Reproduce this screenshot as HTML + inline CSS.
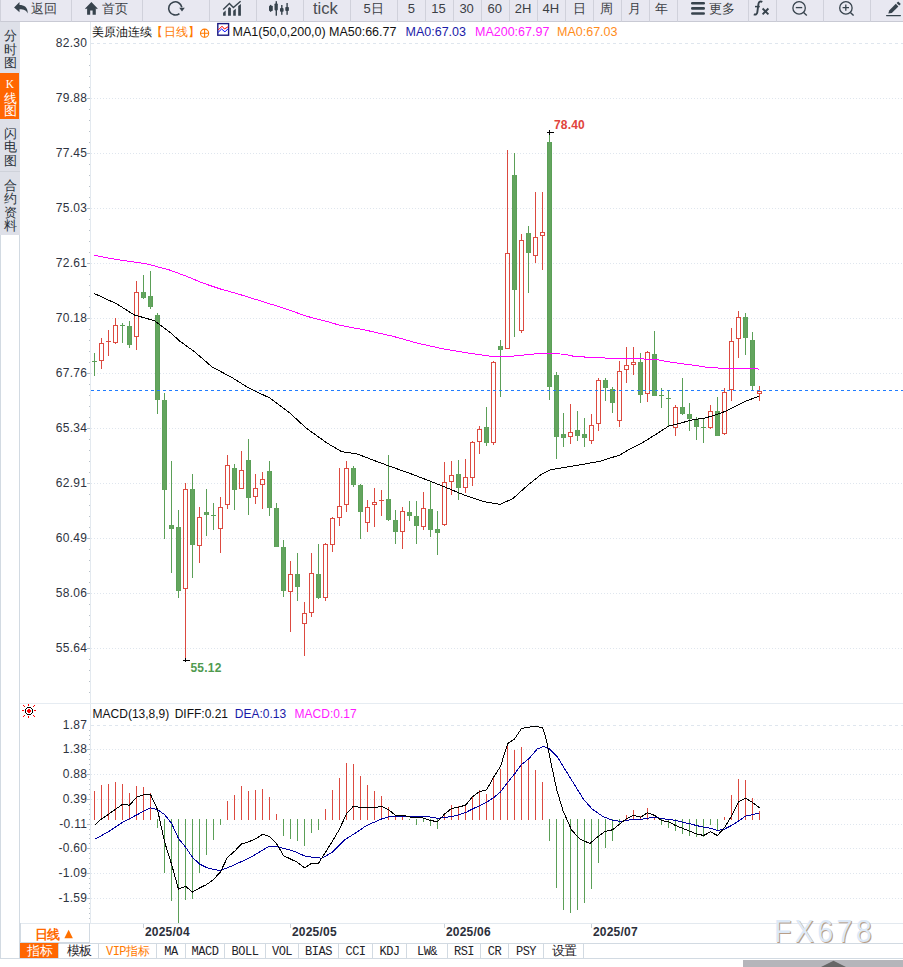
<!DOCTYPE html>
<html><head><meta charset="utf-8">
<style>
*{margin:0;padding:0;box-sizing:border-box}
html,body{width:903px;height:967px;overflow:hidden;background:#fff;font-family:"Liberation Sans",sans-serif;}
.ch{position:absolute;left:0;top:0}
#tbar{position:absolute;left:0;top:0;width:903px;height:22px;background:#e8e8f1;}
.tb{position:absolute;top:0;height:22px;border-left:1px solid #d0d1db;border-bottom:1px solid #c9cad4;display:flex;align-items:center;justify-content:center;color:#3c3f45;font-size:13px;line-height:22px;}
.tx{position:absolute;top:0;white-space:nowrap;color:#3c3f45;line-height:18px}
.tx.num{font-size:13px;top:0px}
.tx.cn{font-size:12.5px;top:-0.5px}
.tx.big{font-size:16.5px;color:#4a4d52;top:-1px}
#side{position:absolute;left:0;top:22px;width:20px;height:213px;background:#dee0e8;}
.st{position:absolute;left:0;width:20px;color:#2b333b;font-size:13.5px;line-height:13.6px;text-align:center;}
.sc{position:absolute;left:0;width:20px;text-align:center;font-size:12.5px;line-height:16px}
#sidebox{position:absolute;left:0;top:235px;width:20px;height:724px;border:1px solid #d2dae2;border-top:none;}
.yl{position:absolute;left:20px;width:67.3px;text-align:right;font-size:12px;color:#2e3340;line-height:15px;letter-spacing:0.3px}
.hd{position:absolute;top:23.6px;font-size:12.5px;line-height:17px;white-space:nowrap;}
.hd.cn{top:24px;font-size:12px}
.xl{position:absolute;top:924.7px;font-size:12px;font-weight:bold;color:#2b2f3a;line-height:15px;letter-spacing:0.2px}
.bt{position:absolute;top:943px;height:16px;border:1px solid #d2dae2;border-left:none;font-family:"Liberation Mono",monospace;font-size:12px;line-height:17px;text-align:center;color:#1e2228;letter-spacing:-0.5px}
.bt.on{background:#ff6600;border-top-color:#ff6600;color:#fff;font-family:"Liberation Sans",sans-serif;font-size:12.5px;letter-spacing:-0.5px;line-height:14px;padding-left:1px}
.bt.cn{font-family:"Liberation Sans",sans-serif;font-size:12.5px;letter-spacing:-0.5px;line-height:14px;padding-left:1px}
.bt.vip{color:#ff7a00;font-size:12px}
#dayl{position:absolute;left:20px;top:923px;width:70px;height:20px;border:1px solid #d2dae2;border-top:none;color:#ff6a00;font-size:13.5px;line-height:22px;text-align:center;}
#dayl span{font-size:9px;position:relative;top:-1px}
#wm{position:absolute;left:773.8px;top:913.6px;font-size:31px;letter-spacing:3.7px;color:#dde9f7;text-shadow:1px 1px 0 #b89e88;line-height:36px;transform:scaleX(0.92);transform-origin:0 0}
</style></head><body>
<svg class="ch" width="903" height="967" viewBox="0 0 903 967">
<g shape-rendering="crispEdges">
<line x1="91" y1="43.5" x2="903" y2="43.5" stroke="#dfe6ee" stroke-width="1" stroke-dasharray="3 3"/>
<line x1="91" y1="98.5" x2="903" y2="98.5" stroke="#dfe6ee" stroke-width="1" stroke-dasharray="1 2"/>
<line x1="91" y1="153.5" x2="903" y2="153.5" stroke="#dfe6ee" stroke-width="1" stroke-dasharray="1 2"/>
<line x1="91" y1="208.5" x2="903" y2="208.5" stroke="#dfe6ee" stroke-width="1" stroke-dasharray="1 2"/>
<line x1="91" y1="263.5" x2="903" y2="263.5" stroke="#dfe6ee" stroke-width="1" stroke-dasharray="1 2"/>
<line x1="91" y1="318.5" x2="903" y2="318.5" stroke="#dfe6ee" stroke-width="1" stroke-dasharray="1 2"/>
<line x1="91" y1="373.5" x2="903" y2="373.5" stroke="#dfe6ee" stroke-width="1" stroke-dasharray="1 2"/>
<line x1="91" y1="428.5" x2="903" y2="428.5" stroke="#dfe6ee" stroke-width="1" stroke-dasharray="1 2"/>
<line x1="91" y1="483.5" x2="903" y2="483.5" stroke="#dfe6ee" stroke-width="1" stroke-dasharray="1 2"/>
<line x1="91" y1="538.5" x2="903" y2="538.5" stroke="#dfe6ee" stroke-width="1" stroke-dasharray="1 2"/>
<line x1="91" y1="593.5" x2="903" y2="593.5" stroke="#dfe6ee" stroke-width="1" stroke-dasharray="1 2"/>
<line x1="91" y1="648.5" x2="903" y2="648.5" stroke="#dfe6ee" stroke-width="1" stroke-dasharray="1 2"/>
<line x1="91" y1="725.5" x2="903" y2="725.5" stroke="#dfe6ee" stroke-width="1" stroke-dasharray="3 3"/>
<line x1="91" y1="749.5" x2="903" y2="749.5" stroke="#dfe6ee" stroke-width="1" stroke-dasharray="1 2"/>
<line x1="91" y1="774.5" x2="903" y2="774.5" stroke="#dfe6ee" stroke-width="1" stroke-dasharray="1 2"/>
<line x1="91" y1="799.5" x2="903" y2="799.5" stroke="#dfe6ee" stroke-width="1" stroke-dasharray="1 2"/>
<line x1="91" y1="824.5" x2="903" y2="824.5" stroke="#dfe6ee" stroke-width="1" stroke-dasharray="1 2"/>
<line x1="91" y1="848.5" x2="903" y2="848.5" stroke="#dfe6ee" stroke-width="1" stroke-dasharray="1 2"/>
<line x1="91" y1="873.5" x2="903" y2="873.5" stroke="#dfe6ee" stroke-width="1" stroke-dasharray="1 2"/>
<line x1="91" y1="898.5" x2="903" y2="898.5" stroke="#dfe6ee" stroke-width="1" stroke-dasharray="1 2"/>
<rect x="90" y="22" width="1" height="681" fill="#e3e9ef"/>
<rect x="90" y="704" width="1" height="219" fill="#e3e9ef"/>
<rect x="89" y="54" width="1" height="1" fill="#b8c0c8"/>
<rect x="89" y="65" width="1" height="1" fill="#b8c0c8"/>
<rect x="89" y="76" width="1" height="1" fill="#b8c0c8"/>
<rect x="89" y="87" width="1" height="1" fill="#b8c0c8"/>
<rect x="87" y="98" width="3" height="1" fill="#b8c0c8"/>
<rect x="89" y="109" width="1" height="1" fill="#b8c0c8"/>
<rect x="89" y="120" width="1" height="1" fill="#b8c0c8"/>
<rect x="89" y="131" width="1" height="1" fill="#b8c0c8"/>
<rect x="89" y="142" width="1" height="1" fill="#b8c0c8"/>
<rect x="87" y="153" width="3" height="1" fill="#b8c0c8"/>
<rect x="89" y="164" width="1" height="1" fill="#b8c0c8"/>
<rect x="89" y="175" width="1" height="1" fill="#b8c0c8"/>
<rect x="89" y="186" width="1" height="1" fill="#b8c0c8"/>
<rect x="89" y="197" width="1" height="1" fill="#b8c0c8"/>
<rect x="87" y="208" width="3" height="1" fill="#b8c0c8"/>
<rect x="89" y="219" width="1" height="1" fill="#b8c0c8"/>
<rect x="89" y="230" width="1" height="1" fill="#b8c0c8"/>
<rect x="89" y="241" width="1" height="1" fill="#b8c0c8"/>
<rect x="89" y="252" width="1" height="1" fill="#b8c0c8"/>
<rect x="87" y="263" width="3" height="1" fill="#b8c0c8"/>
<rect x="89" y="274" width="1" height="1" fill="#b8c0c8"/>
<rect x="89" y="285" width="1" height="1" fill="#b8c0c8"/>
<rect x="89" y="296" width="1" height="1" fill="#b8c0c8"/>
<rect x="89" y="307" width="1" height="1" fill="#b8c0c8"/>
<rect x="87" y="318" width="3" height="1" fill="#b8c0c8"/>
<rect x="89" y="329" width="1" height="1" fill="#b8c0c8"/>
<rect x="89" y="340" width="1" height="1" fill="#b8c0c8"/>
<rect x="89" y="351" width="1" height="1" fill="#b8c0c8"/>
<rect x="89" y="362" width="1" height="1" fill="#b8c0c8"/>
<rect x="87" y="373" width="3" height="1" fill="#b8c0c8"/>
<rect x="89" y="384" width="1" height="1" fill="#b8c0c8"/>
<rect x="89" y="395" width="1" height="1" fill="#b8c0c8"/>
<rect x="89" y="406" width="1" height="1" fill="#b8c0c8"/>
<rect x="89" y="417" width="1" height="1" fill="#b8c0c8"/>
<rect x="87" y="428" width="3" height="1" fill="#b8c0c8"/>
<rect x="89" y="439" width="1" height="1" fill="#b8c0c8"/>
<rect x="89" y="450" width="1" height="1" fill="#b8c0c8"/>
<rect x="89" y="461" width="1" height="1" fill="#b8c0c8"/>
<rect x="89" y="472" width="1" height="1" fill="#b8c0c8"/>
<rect x="87" y="483" width="3" height="1" fill="#b8c0c8"/>
<rect x="89" y="494" width="1" height="1" fill="#b8c0c8"/>
<rect x="89" y="505" width="1" height="1" fill="#b8c0c8"/>
<rect x="89" y="516" width="1" height="1" fill="#b8c0c8"/>
<rect x="89" y="527" width="1" height="1" fill="#b8c0c8"/>
<rect x="87" y="538" width="3" height="1" fill="#b8c0c8"/>
<rect x="89" y="549" width="1" height="1" fill="#b8c0c8"/>
<rect x="89" y="560" width="1" height="1" fill="#b8c0c8"/>
<rect x="89" y="571" width="1" height="1" fill="#b8c0c8"/>
<rect x="89" y="582" width="1" height="1" fill="#b8c0c8"/>
<rect x="87" y="593" width="3" height="1" fill="#b8c0c8"/>
<rect x="89" y="604" width="1" height="1" fill="#b8c0c8"/>
<rect x="89" y="615" width="1" height="1" fill="#b8c0c8"/>
<rect x="89" y="626" width="1" height="1" fill="#b8c0c8"/>
<rect x="89" y="637" width="1" height="1" fill="#b8c0c8"/>
<rect x="87" y="648" width="3" height="1" fill="#b8c0c8"/>
<rect x="89" y="659" width="1" height="1" fill="#b8c0c8"/>
<rect x="89" y="670" width="1" height="1" fill="#b8c0c8"/>
<rect x="89" y="681" width="1" height="1" fill="#b8c0c8"/>
<rect x="89" y="692" width="1" height="1" fill="#b8c0c8"/>
<rect x="89" y="730" width="1" height="1" fill="#b8c0c8"/>
<rect x="89" y="735" width="1" height="1" fill="#b8c0c8"/>
<rect x="89" y="739" width="1" height="1" fill="#b8c0c8"/>
<rect x="89" y="744" width="1" height="1" fill="#b8c0c8"/>
<rect x="87" y="749" width="3" height="1" fill="#b8c0c8"/>
<rect x="89" y="754" width="1" height="1" fill="#b8c0c8"/>
<rect x="89" y="759" width="1" height="1" fill="#b8c0c8"/>
<rect x="89" y="764" width="1" height="1" fill="#b8c0c8"/>
<rect x="89" y="769" width="1" height="1" fill="#b8c0c8"/>
<rect x="87" y="774" width="3" height="1" fill="#b8c0c8"/>
<rect x="89" y="779" width="1" height="1" fill="#b8c0c8"/>
<rect x="89" y="784" width="1" height="1" fill="#b8c0c8"/>
<rect x="89" y="789" width="1" height="1" fill="#b8c0c8"/>
<rect x="89" y="794" width="1" height="1" fill="#b8c0c8"/>
<rect x="87" y="799" width="3" height="1" fill="#b8c0c8"/>
<rect x="89" y="804" width="1" height="1" fill="#b8c0c8"/>
<rect x="89" y="809" width="1" height="1" fill="#b8c0c8"/>
<rect x="89" y="814" width="1" height="1" fill="#b8c0c8"/>
<rect x="89" y="819" width="1" height="1" fill="#b8c0c8"/>
<rect x="87" y="824" width="3" height="1" fill="#b8c0c8"/>
<rect x="89" y="829" width="1" height="1" fill="#b8c0c8"/>
<rect x="89" y="834" width="1" height="1" fill="#b8c0c8"/>
<rect x="89" y="838" width="1" height="1" fill="#b8c0c8"/>
<rect x="89" y="843" width="1" height="1" fill="#b8c0c8"/>
<rect x="87" y="848" width="3" height="1" fill="#b8c0c8"/>
<rect x="89" y="853" width="1" height="1" fill="#b8c0c8"/>
<rect x="89" y="858" width="1" height="1" fill="#b8c0c8"/>
<rect x="89" y="863" width="1" height="1" fill="#b8c0c8"/>
<rect x="89" y="868" width="1" height="1" fill="#b8c0c8"/>
<rect x="87" y="873" width="3" height="1" fill="#b8c0c8"/>
<rect x="89" y="878" width="1" height="1" fill="#b8c0c8"/>
<rect x="89" y="883" width="1" height="1" fill="#b8c0c8"/>
<rect x="89" y="888" width="1" height="1" fill="#b8c0c8"/>
<rect x="89" y="893" width="1" height="1" fill="#b8c0c8"/>
<rect x="87" y="898" width="3" height="1" fill="#b8c0c8"/>
<rect x="89" y="903" width="1" height="1" fill="#b8c0c8"/>
<rect x="89" y="908" width="1" height="1" fill="#b8c0c8"/>
<rect x="89" y="913" width="1" height="1" fill="#b8c0c8"/>
<rect x="89" y="918" width="1" height="1" fill="#b8c0c8"/>
<rect x="20" y="703" width="883" height="1" fill="#e6ecf2"/>
<rect x="20" y="923" width="883" height="1" fill="#e3e9ef"/>
<rect x="94" y="353" width="1" height="23" fill="#5b9f57"/>
<rect x="92" y="361" width="5" height="1" fill="#5b9f57"/>
<rect x="101" y="338" width="1" height="5" fill="#dc4a40"/>
<rect x="101" y="360" width="1" height="9" fill="#dc4a40"/>
<rect x="99" y="343" width="5" height="1" fill="#dc4a40"/>
<rect x="99" y="360" width="5" height="1" fill="#dc4a40"/>
<rect x="99" y="343" width="1" height="18" fill="#dc4a40"/>
<rect x="103" y="343" width="1" height="18" fill="#dc4a40"/>
<rect x="108" y="330" width="1" height="11" fill="#dc4a40"/>
<rect x="108" y="342" width="1" height="14" fill="#dc4a40"/>
<rect x="106" y="341" width="5" height="1" fill="#dc4a40"/>
<rect x="115" y="318" width="1" height="7" fill="#dc4a40"/>
<rect x="115" y="342" width="1" height="2" fill="#dc4a40"/>
<rect x="113" y="325" width="5" height="1" fill="#dc4a40"/>
<rect x="113" y="342" width="5" height="1" fill="#dc4a40"/>
<rect x="113" y="325" width="1" height="18" fill="#dc4a40"/>
<rect x="117" y="325" width="1" height="18" fill="#dc4a40"/>
<rect x="122" y="323" width="1" height="20" fill="#5b9f57"/>
<rect x="120" y="325" width="5" height="1" fill="#5b9f57"/>
<rect x="129" y="321" width="1" height="27" fill="#5b9f57"/>
<rect x="127" y="326" width="5" height="19" fill="#63a55e" stroke="none"/>
<rect x="127" y="326" width="1" height="19" fill="#5b9f57"/>
<rect x="131" y="326" width="1" height="19" fill="#5b9f57"/>
<rect x="136" y="281" width="1" height="11" fill="#dc4a40"/>
<rect x="136" y="336" width="1" height="14" fill="#dc4a40"/>
<rect x="134" y="292" width="5" height="1" fill="#dc4a40"/>
<rect x="134" y="336" width="5" height="1" fill="#dc4a40"/>
<rect x="134" y="292" width="1" height="45" fill="#dc4a40"/>
<rect x="138" y="292" width="1" height="45" fill="#dc4a40"/>
<rect x="143" y="275" width="1" height="24" fill="#5b9f57"/>
<rect x="141" y="292" width="5" height="6" fill="#63a55e" stroke="none"/>
<rect x="141" y="292" width="1" height="6" fill="#5b9f57"/>
<rect x="145" y="292" width="1" height="6" fill="#5b9f57"/>
<rect x="150" y="271" width="1" height="38" fill="#5b9f57"/>
<rect x="148" y="296" width="5" height="11" fill="#63a55e" stroke="none"/>
<rect x="148" y="296" width="1" height="11" fill="#5b9f57"/>
<rect x="152" y="296" width="1" height="11" fill="#5b9f57"/>
<rect x="157" y="313" width="1" height="101" fill="#5b9f57"/>
<rect x="155" y="315" width="5" height="85" fill="#63a55e" stroke="none"/>
<rect x="155" y="315" width="1" height="85" fill="#5b9f57"/>
<rect x="159" y="315" width="1" height="85" fill="#5b9f57"/>
<rect x="164" y="393" width="1" height="146" fill="#5b9f57"/>
<rect x="162" y="400" width="5" height="90" fill="#63a55e" stroke="none"/>
<rect x="162" y="400" width="1" height="90" fill="#5b9f57"/>
<rect x="166" y="400" width="1" height="90" fill="#5b9f57"/>
<rect x="171" y="461" width="1" height="112" fill="#5b9f57"/>
<rect x="169" y="525" width="5" height="4" fill="#63a55e" stroke="none"/>
<rect x="169" y="525" width="1" height="4" fill="#5b9f57"/>
<rect x="173" y="525" width="1" height="4" fill="#5b9f57"/>
<rect x="178" y="510" width="1" height="88" fill="#5b9f57"/>
<rect x="176" y="527" width="5" height="64" fill="#63a55e" stroke="none"/>
<rect x="176" y="527" width="1" height="64" fill="#5b9f57"/>
<rect x="180" y="527" width="1" height="64" fill="#5b9f57"/>
<rect x="185" y="483" width="1" height="6" fill="#dc4a40"/>
<rect x="185" y="588" width="1" height="73" fill="#dc4a40"/>
<rect x="183" y="489" width="5" height="1" fill="#dc4a40"/>
<rect x="183" y="588" width="5" height="1" fill="#dc4a40"/>
<rect x="183" y="489" width="1" height="100" fill="#dc4a40"/>
<rect x="187" y="489" width="1" height="100" fill="#dc4a40"/>
<rect x="192" y="474" width="1" height="104" fill="#5b9f57"/>
<rect x="190" y="489" width="5" height="56" fill="#63a55e" stroke="none"/>
<rect x="190" y="489" width="1" height="56" fill="#5b9f57"/>
<rect x="194" y="489" width="1" height="56" fill="#5b9f57"/>
<rect x="199" y="507" width="1" height="10" fill="#dc4a40"/>
<rect x="199" y="545" width="1" height="18" fill="#dc4a40"/>
<rect x="197" y="517" width="5" height="1" fill="#dc4a40"/>
<rect x="197" y="545" width="5" height="1" fill="#dc4a40"/>
<rect x="197" y="517" width="1" height="29" fill="#dc4a40"/>
<rect x="201" y="517" width="1" height="29" fill="#dc4a40"/>
<rect x="206" y="489" width="1" height="47" fill="#5b9f57"/>
<rect x="204" y="512" width="5" height="3" fill="#63a55e" stroke="none"/>
<rect x="204" y="512" width="1" height="3" fill="#5b9f57"/>
<rect x="208" y="512" width="1" height="3" fill="#5b9f57"/>
<rect x="213" y="503" width="1" height="27" fill="#5b9f57"/>
<rect x="211" y="515" width="5" height="1" fill="#5b9f57"/>
<rect x="220" y="497" width="1" height="10" fill="#dc4a40"/>
<rect x="220" y="528" width="1" height="25" fill="#dc4a40"/>
<rect x="218" y="507" width="5" height="1" fill="#dc4a40"/>
<rect x="218" y="528" width="5" height="1" fill="#dc4a40"/>
<rect x="218" y="507" width="1" height="22" fill="#dc4a40"/>
<rect x="222" y="507" width="1" height="22" fill="#dc4a40"/>
<rect x="227" y="455" width="1" height="10" fill="#dc4a40"/>
<rect x="227" y="504" width="1" height="5" fill="#dc4a40"/>
<rect x="225" y="465" width="5" height="1" fill="#dc4a40"/>
<rect x="225" y="504" width="5" height="1" fill="#dc4a40"/>
<rect x="225" y="465" width="1" height="40" fill="#dc4a40"/>
<rect x="229" y="465" width="1" height="40" fill="#dc4a40"/>
<rect x="234" y="464" width="1" height="46" fill="#5b9f57"/>
<rect x="232" y="468" width="5" height="22" fill="#63a55e" stroke="none"/>
<rect x="232" y="468" width="1" height="22" fill="#5b9f57"/>
<rect x="236" y="468" width="1" height="22" fill="#5b9f57"/>
<rect x="241" y="451" width="1" height="19" fill="#dc4a40"/>
<rect x="239" y="470" width="5" height="1" fill="#dc4a40"/>
<rect x="239" y="488" width="5" height="1" fill="#dc4a40"/>
<rect x="239" y="470" width="1" height="19" fill="#dc4a40"/>
<rect x="243" y="470" width="1" height="19" fill="#dc4a40"/>
<rect x="248" y="439" width="1" height="76" fill="#5b9f57"/>
<rect x="246" y="460" width="5" height="38" fill="#63a55e" stroke="none"/>
<rect x="246" y="460" width="1" height="38" fill="#5b9f57"/>
<rect x="250" y="460" width="1" height="38" fill="#5b9f57"/>
<rect x="255" y="474" width="1" height="14" fill="#dc4a40"/>
<rect x="255" y="496" width="1" height="8" fill="#dc4a40"/>
<rect x="253" y="488" width="5" height="1" fill="#dc4a40"/>
<rect x="253" y="496" width="5" height="1" fill="#dc4a40"/>
<rect x="253" y="488" width="1" height="9" fill="#dc4a40"/>
<rect x="257" y="488" width="1" height="9" fill="#dc4a40"/>
<rect x="262" y="472" width="1" height="7" fill="#dc4a40"/>
<rect x="262" y="484" width="1" height="25" fill="#dc4a40"/>
<rect x="260" y="479" width="5" height="1" fill="#dc4a40"/>
<rect x="260" y="484" width="5" height="1" fill="#dc4a40"/>
<rect x="260" y="479" width="1" height="6" fill="#dc4a40"/>
<rect x="264" y="479" width="1" height="6" fill="#dc4a40"/>
<rect x="269" y="461" width="1" height="55" fill="#5b9f57"/>
<rect x="267" y="471" width="5" height="37" fill="#63a55e" stroke="none"/>
<rect x="267" y="471" width="1" height="37" fill="#5b9f57"/>
<rect x="271" y="471" width="1" height="37" fill="#5b9f57"/>
<rect x="276" y="503" width="1" height="44" fill="#5b9f57"/>
<rect x="274" y="508" width="5" height="39" fill="#63a55e" stroke="none"/>
<rect x="274" y="508" width="1" height="39" fill="#5b9f57"/>
<rect x="278" y="508" width="1" height="39" fill="#5b9f57"/>
<rect x="283" y="540" width="1" height="57" fill="#5b9f57"/>
<rect x="281" y="547" width="5" height="44" fill="#63a55e" stroke="none"/>
<rect x="281" y="547" width="1" height="44" fill="#5b9f57"/>
<rect x="285" y="547" width="1" height="44" fill="#5b9f57"/>
<rect x="290" y="561" width="1" height="13" fill="#dc4a40"/>
<rect x="290" y="591" width="1" height="41" fill="#dc4a40"/>
<rect x="288" y="574" width="5" height="1" fill="#dc4a40"/>
<rect x="288" y="591" width="5" height="1" fill="#dc4a40"/>
<rect x="288" y="574" width="1" height="18" fill="#dc4a40"/>
<rect x="292" y="574" width="1" height="18" fill="#dc4a40"/>
<rect x="297" y="553" width="1" height="48" fill="#5b9f57"/>
<rect x="295" y="574" width="5" height="13" fill="#63a55e" stroke="none"/>
<rect x="295" y="574" width="1" height="13" fill="#5b9f57"/>
<rect x="299" y="574" width="1" height="13" fill="#5b9f57"/>
<rect x="304" y="602" width="1" height="11" fill="#dc4a40"/>
<rect x="304" y="623" width="1" height="33" fill="#dc4a40"/>
<rect x="302" y="613" width="5" height="1" fill="#dc4a40"/>
<rect x="302" y="623" width="5" height="1" fill="#dc4a40"/>
<rect x="302" y="613" width="1" height="11" fill="#dc4a40"/>
<rect x="306" y="613" width="1" height="11" fill="#dc4a40"/>
<rect x="311" y="553" width="1" height="20" fill="#dc4a40"/>
<rect x="311" y="612" width="1" height="5" fill="#dc4a40"/>
<rect x="309" y="573" width="5" height="1" fill="#dc4a40"/>
<rect x="309" y="612" width="5" height="1" fill="#dc4a40"/>
<rect x="309" y="573" width="1" height="40" fill="#dc4a40"/>
<rect x="313" y="573" width="1" height="40" fill="#dc4a40"/>
<rect x="318" y="544" width="1" height="55" fill="#5b9f57"/>
<rect x="316" y="574" width="5" height="24" fill="#63a55e" stroke="none"/>
<rect x="316" y="574" width="1" height="24" fill="#5b9f57"/>
<rect x="320" y="574" width="1" height="24" fill="#5b9f57"/>
<rect x="325" y="543" width="1" height="1" fill="#dc4a40"/>
<rect x="325" y="597" width="1" height="4" fill="#dc4a40"/>
<rect x="323" y="544" width="5" height="1" fill="#dc4a40"/>
<rect x="323" y="597" width="5" height="1" fill="#dc4a40"/>
<rect x="323" y="544" width="1" height="54" fill="#dc4a40"/>
<rect x="327" y="544" width="1" height="54" fill="#dc4a40"/>
<rect x="332" y="517" width="1" height="1" fill="#dc4a40"/>
<rect x="332" y="544" width="1" height="8" fill="#dc4a40"/>
<rect x="330" y="518" width="5" height="1" fill="#dc4a40"/>
<rect x="330" y="544" width="5" height="1" fill="#dc4a40"/>
<rect x="330" y="518" width="1" height="27" fill="#dc4a40"/>
<rect x="334" y="518" width="1" height="27" fill="#dc4a40"/>
<rect x="339" y="468" width="1" height="38" fill="#dc4a40"/>
<rect x="339" y="517" width="1" height="9" fill="#dc4a40"/>
<rect x="337" y="506" width="5" height="1" fill="#dc4a40"/>
<rect x="337" y="517" width="5" height="1" fill="#dc4a40"/>
<rect x="337" y="506" width="1" height="12" fill="#dc4a40"/>
<rect x="341" y="506" width="1" height="12" fill="#dc4a40"/>
<rect x="346" y="461" width="1" height="7" fill="#dc4a40"/>
<rect x="346" y="504" width="1" height="8" fill="#dc4a40"/>
<rect x="344" y="468" width="5" height="1" fill="#dc4a40"/>
<rect x="344" y="504" width="5" height="1" fill="#dc4a40"/>
<rect x="344" y="468" width="1" height="37" fill="#dc4a40"/>
<rect x="348" y="468" width="1" height="37" fill="#dc4a40"/>
<rect x="353" y="466" width="1" height="21" fill="#5b9f57"/>
<rect x="351" y="468" width="5" height="17" fill="#63a55e" stroke="none"/>
<rect x="351" y="468" width="1" height="17" fill="#5b9f57"/>
<rect x="355" y="468" width="1" height="17" fill="#5b9f57"/>
<rect x="360" y="484" width="1" height="55" fill="#5b9f57"/>
<rect x="358" y="485" width="5" height="27" fill="#63a55e" stroke="none"/>
<rect x="358" y="485" width="1" height="27" fill="#5b9f57"/>
<rect x="362" y="485" width="1" height="27" fill="#5b9f57"/>
<rect x="367" y="500" width="1" height="7" fill="#dc4a40"/>
<rect x="367" y="522" width="1" height="10" fill="#dc4a40"/>
<rect x="365" y="507" width="5" height="1" fill="#dc4a40"/>
<rect x="365" y="522" width="5" height="1" fill="#dc4a40"/>
<rect x="365" y="507" width="1" height="16" fill="#dc4a40"/>
<rect x="369" y="507" width="1" height="16" fill="#dc4a40"/>
<rect x="374" y="488" width="1" height="14" fill="#dc4a40"/>
<rect x="374" y="504" width="1" height="23" fill="#dc4a40"/>
<rect x="372" y="502" width="5" height="1" fill="#dc4a40"/>
<rect x="372" y="504" width="5" height="1" fill="#dc4a40"/>
<rect x="372" y="502" width="1" height="3" fill="#dc4a40"/>
<rect x="376" y="502" width="1" height="3" fill="#dc4a40"/>
<rect x="381" y="490" width="1" height="10" fill="#dc4a40"/>
<rect x="381" y="500" width="1" height="16" fill="#dc4a40"/>
<rect x="379" y="500" width="5" height="1" fill="#dc4a40"/>
<rect x="388" y="455" width="1" height="66" fill="#5b9f57"/>
<rect x="386" y="499" width="5" height="21" fill="#63a55e" stroke="none"/>
<rect x="386" y="499" width="1" height="21" fill="#5b9f57"/>
<rect x="390" y="499" width="1" height="21" fill="#5b9f57"/>
<rect x="395" y="510" width="1" height="34" fill="#5b9f57"/>
<rect x="393" y="520" width="5" height="12" fill="#63a55e" stroke="none"/>
<rect x="393" y="520" width="1" height="12" fill="#5b9f57"/>
<rect x="397" y="520" width="1" height="12" fill="#5b9f57"/>
<rect x="402" y="507" width="1" height="4" fill="#dc4a40"/>
<rect x="402" y="531" width="1" height="18" fill="#dc4a40"/>
<rect x="400" y="511" width="5" height="1" fill="#dc4a40"/>
<rect x="400" y="531" width="5" height="1" fill="#dc4a40"/>
<rect x="400" y="511" width="1" height="21" fill="#dc4a40"/>
<rect x="404" y="511" width="1" height="21" fill="#dc4a40"/>
<rect x="409" y="501" width="1" height="20" fill="#5b9f57"/>
<rect x="407" y="512" width="5" height="4" fill="#63a55e" stroke="none"/>
<rect x="407" y="512" width="1" height="4" fill="#5b9f57"/>
<rect x="411" y="512" width="1" height="4" fill="#5b9f57"/>
<rect x="416" y="501" width="1" height="43" fill="#5b9f57"/>
<rect x="414" y="516" width="5" height="10" fill="#63a55e" stroke="none"/>
<rect x="414" y="516" width="1" height="10" fill="#5b9f57"/>
<rect x="418" y="516" width="1" height="10" fill="#5b9f57"/>
<rect x="423" y="492" width="1" height="16" fill="#dc4a40"/>
<rect x="423" y="526" width="1" height="4" fill="#dc4a40"/>
<rect x="421" y="508" width="5" height="1" fill="#dc4a40"/>
<rect x="421" y="526" width="5" height="1" fill="#dc4a40"/>
<rect x="421" y="508" width="1" height="19" fill="#dc4a40"/>
<rect x="425" y="508" width="1" height="19" fill="#dc4a40"/>
<rect x="430" y="481" width="1" height="56" fill="#5b9f57"/>
<rect x="428" y="509" width="5" height="21" fill="#63a55e" stroke="none"/>
<rect x="428" y="509" width="1" height="21" fill="#5b9f57"/>
<rect x="432" y="509" width="1" height="21" fill="#5b9f57"/>
<rect x="437" y="511" width="1" height="44" fill="#5b9f57"/>
<rect x="435" y="529" width="5" height="4" fill="#63a55e" stroke="none"/>
<rect x="435" y="529" width="1" height="4" fill="#5b9f57"/>
<rect x="439" y="529" width="1" height="4" fill="#5b9f57"/>
<rect x="444" y="462" width="1" height="20" fill="#dc4a40"/>
<rect x="444" y="524" width="1" height="2" fill="#dc4a40"/>
<rect x="442" y="482" width="5" height="1" fill="#dc4a40"/>
<rect x="442" y="524" width="5" height="1" fill="#dc4a40"/>
<rect x="442" y="482" width="1" height="43" fill="#dc4a40"/>
<rect x="446" y="482" width="1" height="43" fill="#dc4a40"/>
<rect x="451" y="461" width="1" height="14" fill="#dc4a40"/>
<rect x="451" y="481" width="1" height="14" fill="#dc4a40"/>
<rect x="449" y="475" width="5" height="1" fill="#dc4a40"/>
<rect x="449" y="481" width="5" height="1" fill="#dc4a40"/>
<rect x="449" y="475" width="1" height="7" fill="#dc4a40"/>
<rect x="453" y="475" width="1" height="7" fill="#dc4a40"/>
<rect x="458" y="460" width="1" height="40" fill="#5b9f57"/>
<rect x="456" y="474" width="5" height="14" fill="#63a55e" stroke="none"/>
<rect x="456" y="474" width="1" height="14" fill="#5b9f57"/>
<rect x="460" y="474" width="1" height="14" fill="#5b9f57"/>
<rect x="465" y="459" width="1" height="18" fill="#dc4a40"/>
<rect x="465" y="487" width="1" height="6" fill="#dc4a40"/>
<rect x="463" y="477" width="5" height="1" fill="#dc4a40"/>
<rect x="463" y="487" width="5" height="1" fill="#dc4a40"/>
<rect x="463" y="477" width="1" height="11" fill="#dc4a40"/>
<rect x="467" y="477" width="1" height="11" fill="#dc4a40"/>
<rect x="472" y="441" width="1" height="1" fill="#dc4a40"/>
<rect x="472" y="477" width="1" height="9" fill="#dc4a40"/>
<rect x="470" y="442" width="5" height="1" fill="#dc4a40"/>
<rect x="470" y="477" width="5" height="1" fill="#dc4a40"/>
<rect x="470" y="442" width="1" height="36" fill="#dc4a40"/>
<rect x="474" y="442" width="1" height="36" fill="#dc4a40"/>
<rect x="479" y="426" width="1" height="3" fill="#dc4a40"/>
<rect x="479" y="441" width="1" height="13" fill="#dc4a40"/>
<rect x="477" y="429" width="5" height="1" fill="#dc4a40"/>
<rect x="477" y="441" width="5" height="1" fill="#dc4a40"/>
<rect x="477" y="429" width="1" height="13" fill="#dc4a40"/>
<rect x="481" y="429" width="1" height="13" fill="#dc4a40"/>
<rect x="486" y="407" width="1" height="39" fill="#5b9f57"/>
<rect x="484" y="427" width="5" height="16" fill="#63a55e" stroke="none"/>
<rect x="484" y="427" width="1" height="16" fill="#5b9f57"/>
<rect x="488" y="427" width="1" height="16" fill="#5b9f57"/>
<rect x="493" y="361" width="1" height="1" fill="#dc4a40"/>
<rect x="493" y="442" width="1" height="3" fill="#dc4a40"/>
<rect x="491" y="362" width="5" height="1" fill="#dc4a40"/>
<rect x="491" y="442" width="5" height="1" fill="#dc4a40"/>
<rect x="491" y="362" width="1" height="81" fill="#dc4a40"/>
<rect x="495" y="362" width="1" height="81" fill="#dc4a40"/>
<rect x="500" y="340" width="1" height="57" fill="#5b9f57"/>
<rect x="498" y="346" width="5" height="4" fill="#63a55e" stroke="none"/>
<rect x="498" y="346" width="1" height="4" fill="#5b9f57"/>
<rect x="502" y="346" width="1" height="4" fill="#5b9f57"/>
<rect x="507" y="150" width="1" height="103" fill="#dc4a40"/>
<rect x="505" y="253" width="5" height="1" fill="#dc4a40"/>
<rect x="505" y="348" width="5" height="1" fill="#dc4a40"/>
<rect x="505" y="253" width="1" height="96" fill="#dc4a40"/>
<rect x="509" y="253" width="1" height="96" fill="#dc4a40"/>
<rect x="514" y="153" width="1" height="184" fill="#5b9f57"/>
<rect x="512" y="175" width="5" height="115" fill="#63a55e" stroke="none"/>
<rect x="512" y="175" width="1" height="115" fill="#5b9f57"/>
<rect x="516" y="175" width="1" height="115" fill="#5b9f57"/>
<rect x="521" y="234" width="1" height="6" fill="#dc4a40"/>
<rect x="521" y="330" width="1" height="3" fill="#dc4a40"/>
<rect x="519" y="240" width="5" height="1" fill="#dc4a40"/>
<rect x="519" y="330" width="5" height="1" fill="#dc4a40"/>
<rect x="519" y="240" width="1" height="91" fill="#dc4a40"/>
<rect x="523" y="240" width="1" height="91" fill="#dc4a40"/>
<rect x="528" y="226" width="1" height="67" fill="#5b9f57"/>
<rect x="526" y="233" width="5" height="20" fill="#63a55e" stroke="none"/>
<rect x="526" y="233" width="1" height="20" fill="#5b9f57"/>
<rect x="530" y="233" width="1" height="20" fill="#5b9f57"/>
<rect x="535" y="192" width="1" height="45" fill="#dc4a40"/>
<rect x="535" y="255" width="1" height="8" fill="#dc4a40"/>
<rect x="533" y="237" width="5" height="1" fill="#dc4a40"/>
<rect x="533" y="255" width="5" height="1" fill="#dc4a40"/>
<rect x="533" y="237" width="1" height="19" fill="#dc4a40"/>
<rect x="537" y="237" width="1" height="19" fill="#dc4a40"/>
<rect x="542" y="192" width="1" height="40" fill="#dc4a40"/>
<rect x="542" y="235" width="1" height="35" fill="#dc4a40"/>
<rect x="540" y="232" width="5" height="1" fill="#dc4a40"/>
<rect x="540" y="235" width="5" height="1" fill="#dc4a40"/>
<rect x="540" y="232" width="1" height="4" fill="#dc4a40"/>
<rect x="544" y="232" width="1" height="4" fill="#dc4a40"/>
<rect x="549" y="133" width="1" height="267" fill="#5b9f57"/>
<rect x="547" y="142" width="5" height="245" fill="#63a55e" stroke="none"/>
<rect x="547" y="142" width="1" height="245" fill="#5b9f57"/>
<rect x="551" y="142" width="1" height="245" fill="#5b9f57"/>
<rect x="556" y="372" width="1" height="87" fill="#5b9f57"/>
<rect x="554" y="375" width="5" height="62" fill="#63a55e" stroke="none"/>
<rect x="554" y="375" width="1" height="62" fill="#5b9f57"/>
<rect x="558" y="375" width="1" height="62" fill="#5b9f57"/>
<rect x="563" y="413" width="1" height="34" fill="#5b9f57"/>
<rect x="561" y="434" width="5" height="4" fill="#63a55e" stroke="none"/>
<rect x="561" y="434" width="1" height="4" fill="#5b9f57"/>
<rect x="565" y="434" width="1" height="4" fill="#5b9f57"/>
<rect x="570" y="404" width="1" height="28" fill="#dc4a40"/>
<rect x="570" y="436" width="1" height="8" fill="#dc4a40"/>
<rect x="568" y="432" width="5" height="1" fill="#dc4a40"/>
<rect x="568" y="436" width="5" height="1" fill="#dc4a40"/>
<rect x="568" y="432" width="1" height="5" fill="#dc4a40"/>
<rect x="572" y="432" width="1" height="5" fill="#dc4a40"/>
<rect x="577" y="411" width="1" height="30" fill="#5b9f57"/>
<rect x="575" y="430" width="5" height="6" fill="#63a55e" stroke="none"/>
<rect x="575" y="430" width="1" height="6" fill="#5b9f57"/>
<rect x="579" y="430" width="1" height="6" fill="#5b9f57"/>
<rect x="584" y="418" width="1" height="29" fill="#5b9f57"/>
<rect x="582" y="434" width="5" height="4" fill="#63a55e" stroke="none"/>
<rect x="582" y="434" width="1" height="4" fill="#5b9f57"/>
<rect x="586" y="434" width="1" height="4" fill="#5b9f57"/>
<rect x="591" y="414" width="1" height="11" fill="#dc4a40"/>
<rect x="591" y="440" width="1" height="4" fill="#dc4a40"/>
<rect x="589" y="425" width="5" height="1" fill="#dc4a40"/>
<rect x="589" y="440" width="5" height="1" fill="#dc4a40"/>
<rect x="589" y="425" width="1" height="16" fill="#dc4a40"/>
<rect x="593" y="425" width="1" height="16" fill="#dc4a40"/>
<rect x="598" y="378" width="1" height="2" fill="#dc4a40"/>
<rect x="598" y="423" width="1" height="8" fill="#dc4a40"/>
<rect x="596" y="380" width="5" height="1" fill="#dc4a40"/>
<rect x="596" y="423" width="5" height="1" fill="#dc4a40"/>
<rect x="596" y="380" width="1" height="44" fill="#dc4a40"/>
<rect x="600" y="380" width="1" height="44" fill="#dc4a40"/>
<rect x="605" y="378" width="1" height="23" fill="#5b9f57"/>
<rect x="603" y="380" width="5" height="8" fill="#63a55e" stroke="none"/>
<rect x="603" y="380" width="1" height="8" fill="#5b9f57"/>
<rect x="607" y="380" width="1" height="8" fill="#5b9f57"/>
<rect x="612" y="387" width="1" height="26" fill="#5b9f57"/>
<rect x="610" y="389" width="5" height="14" fill="#63a55e" stroke="none"/>
<rect x="610" y="389" width="1" height="14" fill="#5b9f57"/>
<rect x="614" y="389" width="1" height="14" fill="#5b9f57"/>
<rect x="619" y="361" width="1" height="10" fill="#dc4a40"/>
<rect x="619" y="420" width="1" height="7" fill="#dc4a40"/>
<rect x="617" y="371" width="5" height="1" fill="#dc4a40"/>
<rect x="617" y="420" width="5" height="1" fill="#dc4a40"/>
<rect x="617" y="371" width="1" height="50" fill="#dc4a40"/>
<rect x="621" y="371" width="1" height="50" fill="#dc4a40"/>
<rect x="626" y="347" width="1" height="18" fill="#dc4a40"/>
<rect x="626" y="369" width="1" height="14" fill="#dc4a40"/>
<rect x="624" y="365" width="5" height="1" fill="#dc4a40"/>
<rect x="624" y="369" width="5" height="1" fill="#dc4a40"/>
<rect x="624" y="365" width="1" height="5" fill="#dc4a40"/>
<rect x="628" y="365" width="1" height="5" fill="#dc4a40"/>
<rect x="633" y="347" width="1" height="15" fill="#dc4a40"/>
<rect x="633" y="364" width="1" height="11" fill="#dc4a40"/>
<rect x="631" y="362" width="5" height="1" fill="#dc4a40"/>
<rect x="631" y="364" width="5" height="1" fill="#dc4a40"/>
<rect x="631" y="362" width="1" height="3" fill="#dc4a40"/>
<rect x="635" y="362" width="1" height="3" fill="#dc4a40"/>
<rect x="640" y="353" width="1" height="50" fill="#5b9f57"/>
<rect x="638" y="362" width="5" height="33" fill="#63a55e" stroke="none"/>
<rect x="638" y="362" width="1" height="33" fill="#5b9f57"/>
<rect x="642" y="362" width="1" height="33" fill="#5b9f57"/>
<rect x="647" y="351" width="1" height="1" fill="#dc4a40"/>
<rect x="647" y="393" width="1" height="9" fill="#dc4a40"/>
<rect x="645" y="352" width="5" height="1" fill="#dc4a40"/>
<rect x="645" y="393" width="5" height="1" fill="#dc4a40"/>
<rect x="645" y="352" width="1" height="42" fill="#dc4a40"/>
<rect x="649" y="352" width="1" height="42" fill="#dc4a40"/>
<rect x="654" y="331" width="1" height="65" fill="#5b9f57"/>
<rect x="652" y="354" width="5" height="42" fill="#63a55e" stroke="none"/>
<rect x="652" y="354" width="1" height="42" fill="#5b9f57"/>
<rect x="656" y="354" width="1" height="42" fill="#5b9f57"/>
<rect x="661" y="388" width="1" height="20" fill="#5b9f57"/>
<rect x="659" y="395" width="5" height="1" fill="#5b9f57"/>
<rect x="668" y="391" width="1" height="35" fill="#5b9f57"/>
<rect x="666" y="398" width="5" height="1" fill="#5b9f57"/>
<rect x="675" y="405" width="1" height="2" fill="#dc4a40"/>
<rect x="675" y="427" width="1" height="9" fill="#dc4a40"/>
<rect x="673" y="407" width="5" height="1" fill="#dc4a40"/>
<rect x="673" y="427" width="5" height="1" fill="#dc4a40"/>
<rect x="673" y="407" width="1" height="21" fill="#dc4a40"/>
<rect x="677" y="407" width="1" height="21" fill="#dc4a40"/>
<rect x="682" y="378" width="1" height="37" fill="#5b9f57"/>
<rect x="680" y="407" width="5" height="7" fill="#63a55e" stroke="none"/>
<rect x="680" y="407" width="1" height="7" fill="#5b9f57"/>
<rect x="684" y="407" width="1" height="7" fill="#5b9f57"/>
<rect x="689" y="403" width="1" height="28" fill="#5b9f57"/>
<rect x="687" y="414" width="5" height="5" fill="#63a55e" stroke="none"/>
<rect x="687" y="414" width="1" height="5" fill="#5b9f57"/>
<rect x="691" y="414" width="1" height="5" fill="#5b9f57"/>
<rect x="696" y="417" width="1" height="23" fill="#5b9f57"/>
<rect x="694" y="419" width="5" height="8" fill="#63a55e" stroke="none"/>
<rect x="694" y="419" width="1" height="8" fill="#5b9f57"/>
<rect x="698" y="419" width="1" height="8" fill="#5b9f57"/>
<rect x="703" y="418" width="1" height="25" fill="#5b9f57"/>
<rect x="701" y="427" width="5" height="1" fill="#5b9f57"/>
<rect x="710" y="405" width="1" height="6" fill="#dc4a40"/>
<rect x="710" y="427" width="1" height="2" fill="#dc4a40"/>
<rect x="708" y="411" width="5" height="1" fill="#dc4a40"/>
<rect x="708" y="427" width="5" height="1" fill="#dc4a40"/>
<rect x="708" y="411" width="1" height="17" fill="#dc4a40"/>
<rect x="712" y="411" width="1" height="17" fill="#dc4a40"/>
<rect x="717" y="397" width="1" height="39" fill="#5b9f57"/>
<rect x="715" y="411" width="5" height="25" fill="#63a55e" stroke="none"/>
<rect x="715" y="411" width="1" height="25" fill="#5b9f57"/>
<rect x="719" y="411" width="1" height="25" fill="#5b9f57"/>
<rect x="724" y="388" width="1" height="4" fill="#dc4a40"/>
<rect x="724" y="433" width="1" height="2" fill="#dc4a40"/>
<rect x="722" y="392" width="5" height="1" fill="#dc4a40"/>
<rect x="722" y="433" width="5" height="1" fill="#dc4a40"/>
<rect x="722" y="392" width="1" height="42" fill="#dc4a40"/>
<rect x="726" y="392" width="1" height="42" fill="#dc4a40"/>
<rect x="731" y="328" width="1" height="13" fill="#dc4a40"/>
<rect x="731" y="389" width="1" height="12" fill="#dc4a40"/>
<rect x="729" y="341" width="5" height="1" fill="#dc4a40"/>
<rect x="729" y="389" width="5" height="1" fill="#dc4a40"/>
<rect x="729" y="341" width="1" height="49" fill="#dc4a40"/>
<rect x="733" y="341" width="1" height="49" fill="#dc4a40"/>
<rect x="738" y="311" width="1" height="6" fill="#dc4a40"/>
<rect x="738" y="338" width="1" height="20" fill="#dc4a40"/>
<rect x="736" y="317" width="5" height="1" fill="#dc4a40"/>
<rect x="736" y="338" width="5" height="1" fill="#dc4a40"/>
<rect x="736" y="317" width="1" height="22" fill="#dc4a40"/>
<rect x="740" y="317" width="1" height="22" fill="#dc4a40"/>
<rect x="745" y="313" width="1" height="42" fill="#5b9f57"/>
<rect x="743" y="317" width="5" height="21" fill="#63a55e" stroke="none"/>
<rect x="743" y="317" width="1" height="21" fill="#5b9f57"/>
<rect x="747" y="317" width="1" height="21" fill="#5b9f57"/>
<rect x="752" y="332" width="1" height="58" fill="#5b9f57"/>
<rect x="750" y="340" width="5" height="46" fill="#63a55e" stroke="none"/>
<rect x="750" y="340" width="1" height="46" fill="#5b9f57"/>
<rect x="754" y="340" width="1" height="46" fill="#5b9f57"/>
<rect x="759" y="386" width="1" height="5" fill="#dc4a40"/>
<rect x="759" y="393" width="1" height="8" fill="#dc4a40"/>
<rect x="757" y="391" width="5" height="1" fill="#dc4a40"/>
<rect x="757" y="393" width="5" height="1" fill="#dc4a40"/>
<rect x="757" y="391" width="1" height="3" fill="#dc4a40"/>
<rect x="761" y="391" width="1" height="3" fill="#dc4a40"/>
<line x1="91" y1="390.5" x2="903" y2="390.5" stroke="#1f7cff" stroke-width="1" stroke-dasharray="3 3"/>
<rect x="94" y="791" width="1" height="29" fill="#dc4a40"/>
<rect x="101" y="785" width="1" height="35" fill="#dc4a40"/>
<rect x="108" y="784" width="1" height="36" fill="#dc4a40"/>
<rect x="115" y="782" width="1" height="38" fill="#dc4a40"/>
<rect x="122" y="784" width="1" height="36" fill="#dc4a40"/>
<rect x="129" y="793" width="1" height="27" fill="#dc4a40"/>
<rect x="136" y="786" width="1" height="34" fill="#dc4a40"/>
<rect x="143" y="787" width="1" height="33" fill="#dc4a40"/>
<rect x="150" y="793" width="1" height="27" fill="#dc4a40"/>
<rect x="157" y="819" width="1" height="9" fill="#5b9f57"/>
<rect x="164" y="819" width="1" height="54" fill="#5b9f57"/>
<rect x="171" y="819" width="1" height="82" fill="#5b9f57"/>
<rect x="178" y="819" width="1" height="104" fill="#5b9f57"/>
<rect x="185" y="819" width="1" height="81" fill="#5b9f57"/>
<rect x="192" y="819" width="1" height="80" fill="#5b9f57"/>
<rect x="199" y="819" width="1" height="54" fill="#5b9f57"/>
<rect x="206" y="819" width="1" height="36" fill="#5b9f57"/>
<rect x="213" y="819" width="1" height="21" fill="#5b9f57"/>
<rect x="220" y="819" width="1" height="6" fill="#5b9f57"/>
<rect x="227" y="801" width="1" height="19" fill="#dc4a40"/>
<rect x="234" y="795" width="1" height="25" fill="#dc4a40"/>
<rect x="241" y="786" width="1" height="34" fill="#dc4a40"/>
<rect x="248" y="791" width="1" height="29" fill="#dc4a40"/>
<rect x="255" y="790" width="1" height="30" fill="#dc4a40"/>
<rect x="262" y="789" width="1" height="31" fill="#dc4a40"/>
<rect x="269" y="797" width="1" height="23" fill="#dc4a40"/>
<rect x="276" y="814" width="1" height="6" fill="#dc4a40"/>
<rect x="283" y="819" width="1" height="17" fill="#5b9f57"/>
<rect x="290" y="819" width="1" height="20" fill="#5b9f57"/>
<rect x="297" y="819" width="1" height="22" fill="#5b9f57"/>
<rect x="304" y="819" width="1" height="27" fill="#5b9f57"/>
<rect x="311" y="819" width="1" height="14" fill="#5b9f57"/>
<rect x="318" y="819" width="1" height="11" fill="#5b9f57"/>
<rect x="325" y="809" width="1" height="11" fill="#dc4a40"/>
<rect x="332" y="790" width="1" height="30" fill="#dc4a40"/>
<rect x="339" y="778" width="1" height="42" fill="#dc4a40"/>
<rect x="346" y="763" width="1" height="57" fill="#dc4a40"/>
<rect x="353" y="764" width="1" height="56" fill="#dc4a40"/>
<rect x="360" y="776" width="1" height="44" fill="#dc4a40"/>
<rect x="367" y="785" width="1" height="35" fill="#dc4a40"/>
<rect x="374" y="791" width="1" height="29" fill="#dc4a40"/>
<rect x="381" y="796" width="1" height="24" fill="#dc4a40"/>
<rect x="388" y="807" width="1" height="13" fill="#dc4a40"/>
<rect x="395" y="817" width="1" height="3" fill="#dc4a40"/>
<rect x="402" y="817" width="1" height="3" fill="#dc4a40"/>
<rect x="409" y="819" width="1" height="1" fill="#5b9f57"/>
<rect x="416" y="819" width="1" height="6" fill="#5b9f57"/>
<rect x="423" y="819" width="1" height="3" fill="#5b9f57"/>
<rect x="430" y="819" width="1" height="7" fill="#5b9f57"/>
<rect x="437" y="819" width="1" height="10" fill="#5b9f57"/>
<rect x="444" y="814" width="1" height="6" fill="#dc4a40"/>
<rect x="451" y="805" width="1" height="15" fill="#dc4a40"/>
<rect x="458" y="806" width="1" height="14" fill="#dc4a40"/>
<rect x="465" y="805" width="1" height="15" fill="#dc4a40"/>
<rect x="472" y="796" width="1" height="24" fill="#dc4a40"/>
<rect x="479" y="790" width="1" height="30" fill="#dc4a40"/>
<rect x="486" y="794" width="1" height="26" fill="#dc4a40"/>
<rect x="493" y="777" width="1" height="43" fill="#dc4a40"/>
<rect x="500" y="769" width="1" height="51" fill="#dc4a40"/>
<rect x="507" y="744" width="1" height="76" fill="#dc4a40"/>
<rect x="514" y="750" width="1" height="70" fill="#dc4a40"/>
<rect x="521" y="747" width="1" height="73" fill="#dc4a40"/>
<rect x="528" y="760" width="1" height="60" fill="#dc4a40"/>
<rect x="535" y="770" width="1" height="50" fill="#dc4a40"/>
<rect x="542" y="782" width="1" height="38" fill="#dc4a40"/>
<rect x="549" y="819" width="1" height="22" fill="#5b9f57"/>
<rect x="556" y="819" width="1" height="69" fill="#5b9f57"/>
<rect x="563" y="819" width="1" height="91" fill="#5b9f57"/>
<rect x="570" y="819" width="1" height="94" fill="#5b9f57"/>
<rect x="577" y="819" width="1" height="91" fill="#5b9f57"/>
<rect x="584" y="819" width="1" height="84" fill="#5b9f57"/>
<rect x="591" y="819" width="1" height="70" fill="#5b9f57"/>
<rect x="598" y="819" width="1" height="44" fill="#5b9f57"/>
<rect x="605" y="819" width="1" height="29" fill="#5b9f57"/>
<rect x="612" y="819" width="1" height="22" fill="#5b9f57"/>
<rect x="619" y="819" width="1" height="6" fill="#5b9f57"/>
<rect x="626" y="815" width="1" height="5" fill="#dc4a40"/>
<rect x="633" y="810" width="1" height="10" fill="#dc4a40"/>
<rect x="640" y="816" width="1" height="4" fill="#dc4a40"/>
<rect x="647" y="808" width="1" height="12" fill="#dc4a40"/>
<rect x="654" y="817" width="1" height="3" fill="#dc4a40"/>
<rect x="661" y="819" width="1" height="6" fill="#5b9f57"/>
<rect x="668" y="819" width="1" height="9" fill="#5b9f57"/>
<rect x="675" y="819" width="1" height="12" fill="#5b9f57"/>
<rect x="682" y="819" width="1" height="15" fill="#5b9f57"/>
<rect x="689" y="819" width="1" height="17" fill="#5b9f57"/>
<rect x="696" y="819" width="1" height="18" fill="#5b9f57"/>
<rect x="703" y="819" width="1" height="18" fill="#5b9f57"/>
<rect x="710" y="819" width="1" height="6" fill="#5b9f57"/>
<rect x="717" y="819" width="1" height="12" fill="#5b9f57"/>
<rect x="724" y="817" width="1" height="3" fill="#dc4a40"/>
<rect x="731" y="795" width="1" height="25" fill="#dc4a40"/>
<rect x="738" y="779" width="1" height="41" fill="#dc4a40"/>
<rect x="745" y="780" width="1" height="40" fill="#dc4a40"/>
<rect x="752" y="798" width="1" height="22" fill="#dc4a40"/>
<rect x="759" y="811" width="1" height="9" fill="#dc4a40"/>
</g>
<g shape-rendering="crispEdges">
<polyline points="93.8,255.3 116.8,259.6 145.6,263.6 168.6,269.7 185.9,276.0 203.2,283.2 220.5,289.0 240.6,294.7 260.8,301.0 283.8,308.2 306.8,316.3 327.0,321.5 340.0,325.3 365.9,330.2 391.8,336.0 417.7,343.2 443.7,349.0 469.6,353.3 489.7,356.1 512.8,356.1 541.6,353.3 558.8,353.8 566.9,354.8 574.3,356.4 587.7,357.2 608.6,358.2 620.0,358.2 643.6,359.0 657.7,359.7 665.8,361.4 679.2,363.3 692.4,365.1 700.2,366.2 707.1,367.4 721.1,368.2 756.0,368.2 759.1,369.5" fill="none" stroke="#ff00ff" stroke-width="1"/>
<polyline points="93.8,293.3 116.8,303.9 134.1,314.9 154.2,320.6 171.5,333.6 180.1,341.4 194.5,351.7 211.8,366.7 232.0,377.6 249.2,388.3 269.4,397.8 289.6,412.8 306.8,428.6 327.0,443.0 341.4,451.6 357.3,454.0 374.6,460.7 391.8,467.0 412.0,474.2 429.3,480.8 446.5,487.7 463.8,494.9 484.0,501.6 499.8,504.4 512.8,498.7 527.2,485.7 541.6,474.2 550.2,469.9 570.4,466.4 587.6,463.5 600.0,461.2 620.0,455.0 628.8,449.7 643.0,442.4 656.4,434.0 668.5,426.2 679.2,423.5 692.0,419.9 704.8,418.1 717.2,414.4 726.5,410.9 737.4,405.4 746.7,400.8 759.1,396.1" fill="none" stroke="#000000" stroke-width="1"/>
<polyline points="94.5,839.4 108.5,831.7 122.5,822.3 136.5,815.0 150.5,807.8 157.5,809.5 164.5,814.6 171.5,823.2 178.5,838.5 185.5,847.1 192.5,857.3 199.5,864.1 208.5,868.4 220.5,870.6 234.1,865.0 251.2,857.0 268.3,846.7 276.8,846.7 292.2,850.5 305.8,856.4 322.0,858.2 332.2,852.2 344.1,840.2 354.4,833.7 366.3,825.7 381.7,818.9 390.2,816.3 405.6,816.3 426.1,816.3 437.6,818.3 444.6,817.4 451.6,816.6 458.6,814.9 465.6,812.6 472.6,808.9 479.6,805.8 486.6,802.1 493.6,797.8 500.6,791.8 507.6,782.4 514.6,773.9 521.6,764.5 528.6,759.0 537.2,749.0 543.4,746.5 549.7,749.0 556.9,756.2 565.2,769.7 573.5,783.1 583.8,799.7 592.1,809.0 602.4,816.2 612.8,820.4 621.0,821.4 633.5,819.3 640.0,819.4 647.5,818.3 654.5,817.1 661.6,818.6 668.5,819.4 675.6,820.4 682.5,822.2 689.5,823.7 696.4,825.5 703.5,827.2 710.5,828.3 717.5,830.5 724.5,829.1 731.4,825.5 738.5,821.1 745.5,816.1 752.4,814.7 759.5,812.8" fill="none" stroke="#0000a0" stroke-width="1"/>
<polyline points="94.5,825.4 101.5,818.9 108.5,814.3 115.5,809.2 122.5,804.4 129.5,805.2 136.5,797.2 143.5,794.7 150.5,794.5 157.5,809.5 164.5,841.6 171.5,864.1 178.5,889.2 185.5,886.3 192.5,892.0 199.5,888.0 206.5,884.6 213.5,879.5 220.5,871.8 227.5,857.3 234.5,851.3 241.5,844.0 248.5,841.9 255.5,838.9 262.5,834.3 269.5,836.5 276.5,843.6 283.5,855.6 290.5,859.0 297.5,862.4 304.5,867.9 311.5,863.3 318.5,863.3 325.5,852.2 332.5,841.1 339.5,829.1 346.5,813.8 353.5,806.1 360.5,807.5 374.5,807.5 381.5,806.4 388.5,809.5 395.5,815.5 405.6,815.8 412.4,817.7 421.0,817.2 430.6,820.5 437.6,821.7 444.6,814.0 451.6,808.5 458.6,807.2 465.6,805.1 472.6,796.6 479.6,791.5 486.6,789.8 493.6,777.3 500.6,766.2 507.6,743.7 514.6,738.9 521.6,728.3 528.6,727.3 535.6,726.1 542.8,727.9 546.6,740.7 550.7,761.4 556.9,790.3 563.1,811.0 571.4,829.7 579.7,839.0 590.0,843.5 596.2,837.9 604.5,831.7 612.8,829.7 621.0,823.0 627.2,818.3 633.5,815.2 640.7,817.2 647.5,812.8 654.5,815.4 661.6,820.4 668.5,821.9 675.6,825.5 682.5,828.3 689.5,831.2 696.4,833.8 703.5,835.5 710.5,831.9 717.5,835.5 724.5,827.6 731.4,816.1 738.5,801.7 745.5,798.1 752.4,802.4 759.5,807.8" fill="none" stroke="#000000" stroke-width="1"/>
</g>
<g shape-rendering="crispEdges">
<rect x="185" y="658" width="1" height="4" fill="#000"/><rect x="183" y="660" width="7" height="1" fill="#000"/>
<rect x="549" y="130" width="1" height="5" fill="#000"/><rect x="547" y="132" width="7" height="1" fill="#000"/>
<rect x="143" y="924" width="1" height="4" fill="#ccd3da"/>
<rect x="290" y="924" width="1" height="4" fill="#ccd3da"/>
<rect x="444" y="924" width="1" height="4" fill="#ccd3da"/>
<rect x="591" y="924" width="1" height="4" fill="#ccd3da"/>
</g>
<g shape-rendering="crispEdges">
<rect x="27" y="707" width="1" height="1" fill="#000"/><rect x="28" y="707" width="1" height="1" fill="#000"/><rect x="29" y="707" width="1" height="1" fill="#000"/><rect x="30" y="707" width="1" height="1" fill="#000"/><rect x="26" y="708" width="1" height="1" fill="#000"/><rect x="31" y="708" width="1" height="1" fill="#000"/><rect x="25" y="709" width="1" height="1" fill="#000"/><rect x="25" y="710" width="1" height="1" fill="#000"/><rect x="25" y="711" width="1" height="1" fill="#000"/><rect x="25" y="712" width="1" height="1" fill="#000"/><rect x="32" y="709" width="1" height="1" fill="#000"/><rect x="32" y="710" width="1" height="1" fill="#000"/><rect x="32" y="711" width="1" height="1" fill="#000"/><rect x="32" y="712" width="1" height="1" fill="#000"/><rect x="26" y="713" width="1" height="1" fill="#000"/><rect x="31" y="713" width="1" height="1" fill="#000"/><rect x="27" y="714" width="1" height="1" fill="#000"/><rect x="28" y="714" width="1" height="1" fill="#000"/><rect x="29" y="714" width="1" height="1" fill="#000"/><rect x="30" y="714" width="1" height="1" fill="#000"/><rect x="28" y="709" width="1" height="1" fill="#f00"/><rect x="29" y="709" width="1" height="1" fill="#f00"/><rect x="27" y="710" width="1" height="1" fill="#f00"/><rect x="28" y="710" width="1" height="1" fill="#f00"/><rect x="29" y="710" width="1" height="1" fill="#f00"/><rect x="30" y="710" width="1" height="1" fill="#f00"/><rect x="27" y="711" width="1" height="1" fill="#f00"/><rect x="28" y="711" width="1" height="1" fill="#f00"/><rect x="29" y="711" width="1" height="1" fill="#f00"/><rect x="30" y="711" width="1" height="1" fill="#f00"/><rect x="28" y="712" width="1" height="1" fill="#f00"/><rect x="29" y="712" width="1" height="1" fill="#f00"/><rect x="28" y="704" width="1" height="1" fill="#f00"/><rect x="28" y="705" width="1" height="1" fill="#f00"/><rect x="28" y="716" width="1" height="1" fill="#f00"/><rect x="28" y="717" width="1" height="1" fill="#f00"/><rect x="22" y="710" width="1" height="1" fill="#f00"/><rect x="23" y="710" width="1" height="1" fill="#f00"/><rect x="34" y="710" width="1" height="1" fill="#f00"/><rect x="35" y="710" width="1" height="1" fill="#f00"/><rect x="23" y="705" width="1" height="1" fill="#f00"/><rect x="24" y="706" width="1" height="1" fill="#f00"/><rect x="34" y="705" width="1" height="1" fill="#f00"/><rect x="33" y="706" width="1" height="1" fill="#f00"/><rect x="23" y="716" width="1" height="1" fill="#f00"/><rect x="24" y="715" width="1" height="1" fill="#f00"/><rect x="34" y="716" width="1" height="1" fill="#f00"/><rect x="33" y="715" width="1" height="1" fill="#f00"/>
</g>
<path d="M743 960 H903 V967 H743 Z" fill="#b5b5ba"/>
<path d="M833.5 960.8 L846 967 L821 967 Z" fill="#676767"/>
</svg>
<div id="tbar">
<div class="tb" style="left:0px;width:71px"></div>
<div class="tb" style="left:71px;width:71px"></div>
<div class="tb" style="left:142px;width:67px"></div>
<div class="tb" style="left:209px;width:47px"></div>
<div class="tb" style="left:256px;width:47px"></div>
<div class="tb" style="left:303px;width:47px"></div>
<div class="tb" style="left:350px;width:47px"></div>
<div class="tb" style="left:397px;width:28px"></div>
<div class="tb" style="left:425px;width:28px"></div>
<div class="tb" style="left:453px;width:28px"></div>
<div class="tb" style="left:481px;width:28px"></div>
<div class="tb" style="left:509px;width:28px"></div>
<div class="tb" style="left:537px;width:28px"></div>
<div class="tb" style="left:565px;width:28px"></div>
<div class="tb" style="left:593px;width:28px"></div>
<div class="tb" style="left:621px;width:28px"></div>
<div class="tb" style="left:649px;width:28px"></div>
<div class="tb" style="left:677px;width:71px"></div>
<div class="tb" style="left:748px;width:28px"></div>
<div class="tb" style="left:776px;width:47px"></div>
<div class="tb" style="left:823px;width:47px"></div>
<div class="tb" style="left:870px;width:33px"></div>
<svg style="position:absolute;left:0;top:0" width="903" height="22" viewBox="0 0 903 22">
<path d="M14.1 7.4 L19.5 2.1 V5.1 C24 5.1 28 7 27.7 13.6 C26.5 10.5 24 9.3 19.5 9.3 V12.3 Z" fill="#37434d"/>
<path d="M91.4 2.1 L85.1 8.4 L86 9.2 L87.1 8.2 V14.7 H90.2 V10.6 H92.6 V14.7 H95.8 V8.2 L96.9 9.2 L97.7 8.4 Z" fill="#37434d"/>
<path d="M179.45 13.53 A6.6 6.6 0 1 1 181.8 7.25" fill="none" stroke="#37434d" stroke-width="1.6"/>
<path d="M179.2 7.7 L184.8 7.7 L182 11.6 Z" fill="#37434d"/>
<path d="M223.2 9.6 L229.4 3.5 L233.4 7.6 L240.6 1.3" fill="none" stroke="#37434d" stroke-width="1.4"/>
<path d="M223.1 15.8 V12.8 L225.7 10.6 V15.8 Z M228.1 15.8 V8.2 L229.5 7 L230.9 8.2 V15.8 Z M233.2 15.8 V10.8 L235.8 8.8 V15.8 Z M238.2 15.8 V6.1 L240.9 4.0 V15.8 Z" fill="#37434d"/>
<rect x="269" y="5.8" width="3.8" height="5.2" rx="0.8" fill="#37434d"/><rect x="269.9" y="4.9" width="1.4" height="6.9" fill="#37434d"/>
<rect x="274.5" y="3.5" width="3.3" height="6.9" rx="0.8" fill="#37434d"/><rect x="275.6" y="1.2" width="1.4" height="14.5" fill="#37434d"/>
<rect x="280" y="8.1" width="3.6" height="3.7" rx="0.8" fill="#37434d"/><rect x="281.1" y="5" width="1.4" height="9.8" fill="#37434d"/>
<rect x="285.3" y="6.9" width="3.6" height="4.1" rx="0.8" fill="#37434d"/><rect x="286.4" y="3" width="1.4" height="11.8" fill="#37434d"/>
<rect x="691" y="2" width="14" height="2.6" rx="1.3" fill="#37434d"/><rect x="691" y="7.1" width="14" height="2.6" rx="1.3" fill="#37434d"/><rect x="691" y="12.2" width="14" height="2.6" rx="1.3" fill="#37434d"/>
<path d="M762.3 1.9 C760.5 0.9 758.9 1.6 758.5 3.6 L757.3 12.4 C757 14.3 755.5 15 753.8 14.3" fill="none" stroke="#37434d" stroke-width="1.9"/>
<path d="M755 6.6 H759.8" stroke="#37434d" stroke-width="1.5"/>
<path d="M762.6 8.5 L768.4 14.3 M768.4 8.5 L762.6 14.3" stroke="#37434d" stroke-width="1.9"/>
<circle cx="799.1" cy="7.9" r="6.2" fill="none" stroke="#37434d" stroke-width="1.3"/>
<path d="M803.6 12.4 L806.8 15.6" stroke="#37434d" stroke-width="1.4"/>
<path d="M795.8 7.6 H802.2" stroke="#37434d" stroke-width="1.3"/>
<circle cx="845.9" cy="7.9" r="6.2" fill="none" stroke="#37434d" stroke-width="1.3"/>
<path d="M850.4 12.4 L853.6 15.6" stroke="#37434d" stroke-width="1.4"/>
<path d="M842.6 7.6 H849 M845.8 4.4 V10.8" stroke="#37434d" stroke-width="1.3"/>
<path d="M888.3 13.6 L889.2 10.4 L895.8 3.8 L898.4 6.4 L891.8 13 Z" fill="#37434d"/>
<path d="M896.6 3.0 L898.2 1.4 L900.8 4.0 L899.2 5.6 Z" fill="#37434d"/>
<rect x="886" y="14.9" width="15" height="1.3" rx="0.6" fill="#37434d"/>
</svg>
<div class="tx cn" style="left:31px">返回</div>
<div class="tx cn" style="left:102px">首页</div>
<div class="tx big" style="left:313px">tick</div>
<div class="tx num" style="left:363.4px">5日</div>
<div class="tx num" style="left:407.7px">5</div>
<div class="tx num" style="left:431.2px">15</div>
<div class="tx num" style="left:459.4px">30</div>
<div class="tx num" style="left:487.6px">60</div>
<div class="tx num" style="left:514.8px">2H</div>
<div class="tx num" style="left:542.5px">4H</div>
<div class="tx cn" style="left:573px">日</div>
<div class="tx cn" style="left:599.5px">周</div>
<div class="tx cn" style="left:627.8px">月</div>
<div class="tx cn" style="left:655.4px">年</div>
<div class="tx cn" style="left:708.5px">更多</div>
</div>
<div id="side">
<div style="position:absolute;left:0;top:51px;width:19px;height:46px;background:#ff6600"></div>
<div class="sc" style="top:6.2px;color:#2b333b">分</div>
<div class="sc" style="top:19.5px;color:#2b333b">时</div>
<div class="sc" style="top:32.5px;color:#2b333b">图</div>
<div class="sc" style="top:68.5px;color:#fff">线</div>
<div class="sc" style="top:81.2px;color:#fff">图</div>
<div class="sc" style="top:103.8px;color:#2b333b">闪</div>
<div class="sc" style="top:117.2px;color:#2b333b">电</div>
<div class="sc" style="top:130.6px;color:#2b333b">图</div>
<div class="sc" style="top:156.0px;color:#2b333b">合</div>
<div class="sc" style="top:169.3px;color:#2b333b">约</div>
<div class="sc" style="top:182.6px;color:#2b333b">资</div>
<div class="sc" style="top:196.0px;color:#2b333b">料</div>
<div class="sc" style="top:54px;color:#fff;font-family:'Liberation Serif',serif;font-size:11.5px">K</div>
<div style="position:absolute;left:0;top:149px;width:20px;height:1px;background:#cfd2da"></div>
</div>
<div id="sidebox"></div>
<div class="yl" style="top:35.8px">82.30</div>
<div class="yl" style="top:90.8px">79.88</div>
<div class="yl" style="top:145.8px">77.45</div>
<div class="yl" style="top:200.8px">75.03</div>
<div class="yl" style="top:255.8px">72.61</div>
<div class="yl" style="top:310.8px">70.18</div>
<div class="yl" style="top:365.8px">67.76</div>
<div class="yl" style="top:420.8px">65.34</div>
<div class="yl" style="top:475.8px">62.91</div>
<div class="yl" style="top:530.8px">60.49</div>
<div class="yl" style="top:585.8px">58.06</div>
<div class="yl" style="top:640.8px">55.64</div>
<div class="yl" style="top:717.9px">1.87</div>
<div class="yl" style="top:741.9px">1.38</div>
<div class="yl" style="top:766.9px">0.88</div>
<div class="yl" style="top:791.9px">0.39</div>
<div class="yl" style="top:816.9px">-0.11</div>
<div class="yl" style="top:840.9px">-0.60</div>
<div class="yl" style="top:865.9px">-1.09</div>
<div class="yl" style="top:890.9px">-1.59</div>
<div class="hd cn" style="left:92px;color:#111">美原油连续</div>
<div class="hd cn" style="left:151.3px;color:#ff7a00;letter-spacing:0.3px">【日线】</div>
<svg style="position:absolute;left:195px;top:24px" width="20" height="16" viewBox="195 24 20 16"><circle cx="204.6" cy="33.2" r="4.1" fill="none" stroke="#ff7a00" stroke-width="1.1"/><path d="M200.5 33.2 H208.7 M204.6 29.1 V37.3" stroke="#ff7a00" stroke-width="1.1"/></svg>
<svg style="position:absolute;left:216px;top:22px" width="16" height="16" viewBox="216 22 16 16"><rect x="217.8" y="23.6" width="10.8" height="11.6" fill="#fff" stroke="#1a1a80" stroke-width="1.4"/><path d="M218.2 30 L222 26.2 L224.4 29 L228.2 26.7" fill="none" stroke="#f00" stroke-width="1"/><path d="M218.2 32.3 L221.6 29 L224.9 31.9 L228.2 28.6" fill="none" stroke="#00f" stroke-width="1"/></svg>
<div class="hd" style="left:232.6px;color:#111">MA1(50,0,200,0)</div>
<div class="hd" style="left:329px;color:#111">MA50:66.77</div>
<div class="hd" style="left:405.5px;color:#1a1aa8">MA0:67.03</div>
<div class="hd" style="left:475px;color:#ff1aff">MA200:67.97</div>
<div class="hd" style="left:557px;color:#ff8c1a">MA0:67.03</div>
<div class="hd" style="left:92.6px;top:705.8px;font-size:12px;color:#111">MACD(13,8,9)</div>
<div class="hd" style="left:174.7px;top:705.8px;font-size:12px;color:#111">DIFF:0.21</div>
<div class="hd" style="left:234.8px;top:705.8px;font-size:12px;color:#1a1aa8">DEA:0.13</div>
<div class="hd" style="left:294.6px;top:705.8px;font-size:12px;color:#ff1aff">MACD:0.17</div>
<div style="position:absolute;left:554px;top:117.8px;font-size:12px;font-weight:bold;color:#e0443c;letter-spacing:0.15px">78.40</div>
<div style="position:absolute;left:190.5px;top:660.8px;font-size:12px;font-weight:bold;color:#4f9a4f;letter-spacing:0.2px">55.12</div>
<div class="xl" style="left:145px">2025/04</div>
<div class="xl" style="left:292px">2025/05</div>
<div class="xl" style="left:446px">2025/06</div>
<div class="xl" style="left:593px">2025/07</div>
<div id="dayl"></div><div style="position:absolute;left:34.5px;top:925.7px;font-size:12.5px;font-weight:bold;color:#ff6a00;line-height:18px;letter-spacing:-0.5px">日线</div><svg style="position:absolute;left:0;top:0" width="90" height="945" viewBox="0 0 90 945"><path d="M64.4 938.2 H72.9 L68.65 929.8 Z" fill="#ff7000"/></svg>
<div id="wm">FX678</div>
<div class="bt on" style="left:20px;width:39px;">指标</div>
<div class="bt cn" style="left:59px;width:40px;">模板</div>
<div class="bt vip" style="left:99px;width:58px;">VIP指标</div>
<div class="bt " style="left:157px;width:29px;">MA</div>
<div class="bt " style="left:186px;width:39px;">MACD</div>
<div class="bt " style="left:225px;width:41px;">BOLL</div>
<div class="bt " style="left:266px;width:33px;">VOL</div>
<div class="bt " style="left:299px;width:40px;">BIAS</div>
<div class="bt " style="left:339px;width:34px;">CCI</div>
<div class="bt " style="left:373px;width:34px;">KDJ</div>
<div class="bt " style="left:407px;width:41px;">LW&amp;</div>
<div class="bt " style="left:448px;width:33px;">RSI</div>
<div class="bt " style="left:481px;width:28px;">CR</div>
<div class="bt " style="left:509px;width:35px;">PSY</div>
<div class="bt cn" style="left:544px;width:40px;">设置</div>
<div class="bt " style="left:584px;width:319px;border-right:none"></div>
</body></html>
